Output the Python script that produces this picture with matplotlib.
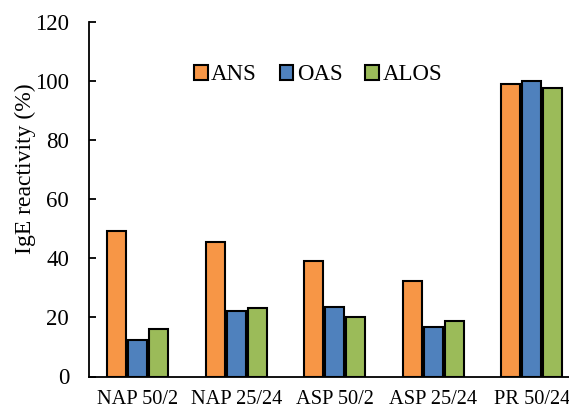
import matplotlib
matplotlib.use("Agg")
import matplotlib.pyplot as plt
import numpy as np

categories = ["NAP 50/2", "NAP 25/24", "ASP 50/2", "ASP 25/24", "PR 50/24"]
ans = [49.3, 45.6, 39.2, 32.3, 98.9]
oas = [12.4, 22.2, 23.4, 16.9, 99.8]
alos = [16.0, 23.0, 20.0, 18.9, 97.4]
series = [("ANS", ans, "#F79646"), ("OAS", oas, "#4F81BD"), ("ALOS", alos, "#9BBB59")]

plt.rcParams['font.family'] = ['Liberation Serif', 'DejaVu Serif']

fig = plt.figure(figsize=(5.69, 4.08), dpi=100)
W, H = 569, 408
left, right, top, bottom = 88.5, 581, 21.5, 376.5
ax = fig.add_axes([left / W, 1 - bottom / H, (right - left) / W, (bottom - top) / H])

x = np.arange(len(categories))
w = 0.19
for i, (name, vals, col) in enumerate(series):
    ax.bar(x + (i - 1) * 0.213, vals, w, color=col, edgecolor="black", linewidth=1.5, label=name)

ax.set_xlim(-0.5, len(categories) - 0.5)
ax.set_ylim(0, 120)
ax.set_yticks(np.arange(0, 121, 20))
ax.set_xticks(x)
ax.set_xticklabels(categories)
ax.tick_params(axis='x', length=0, pad=10, labelsize=14.7)
ax.tick_params(axis='y', direction='in', length=5, width=1.3, labelsize=16.5, pad=14)
for s in ["top", "right"]:
    ax.spines[s].set_visible(False)
for s in ["left", "bottom"]:
    ax.spines[s].set_linewidth(1.3)
ax.set_ylabel("IgE reactivity (%)", fontsize=17)
ax.yaxis.set_label_coords((36 - left) / (right - left), 1 - (169 - top) / (bottom - top))

ax.legend(loc="center", bbox_to_anchor=((318 - left) / (right - left), 1 - (75 - top) / (bottom - top)),
          ncol=3, frameon=False, fontsize=16.5, handlelength=0.6, handleheight=0.6,
          handletextpad=0.15, columnspacing=1.0)

fig.savefig("out.png", dpi=100)
